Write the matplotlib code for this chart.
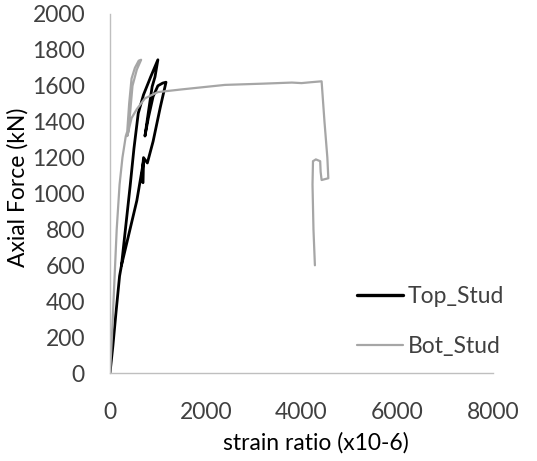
import matplotlib
matplotlib.use("Agg")
import matplotlib.pyplot as plt

# Top_Stud (black) : strain (x10-6), axial force (kN)
top_strain = [0, 60, 130, 200, 240, 330, 420, 500, 590, 700, 850, 1000,
              940, 880, 800, 730, 800, 900, 1000, 1100, 1170,
              1050, 900, 780, 700, 660, 690, 700, 560, 400, 240]
top_force = [0, 150, 350, 540, 600, 820, 1040, 1250, 1447, 1550, 1650, 1745,
             1650, 1595, 1450, 1320, 1420, 1540, 1600, 1615, 1620,
             1480, 1290, 1170, 1200, 1070, 1060, 1180, 960, 780, 600]

# Bot_Stud (gray)
bot_strain = [0, 40, 90, 140, 200, 260, 330, 360, 400, 450, 520, 600, 650,
              560, 470, 420, 380, 360,
              450, 560, 730, 1000, 1500, 2400, 3200, 3800, 4000, 4200, 4420,
              4480, 4540, 4560, 4420, 4400, 4390, 4300, 4240, 4230, 4250, 4280]
bot_force = [0, 200, 500, 800, 1050, 1200, 1320, 1345, 1500, 1640, 1700, 1740, 1745,
             1690, 1600, 1450, 1340, 1320,
             1420, 1470, 1530, 1565, 1580, 1605, 1612, 1618, 1615, 1620, 1625,
             1400, 1200, 1085, 1075, 1120, 1180, 1190, 1180, 1050, 800, 600]

x_ticks = [0, 2000, 4000, 6000, 8000]
y_ticks = [0, 200, 400, 600, 800, 1000, 1200, 1400, 1600, 1800, 2000]

W, H = 537, 461
fig = plt.figure(figsize=(W / 100, H / 100), dpi=100)
ax = fig.add_axes([110 / W, (H - 373) / H, (493 - 110) / W, (373 - 14) / H])

ax.plot(top_strain, top_force, color="#000000", lw=2.0, label="Top_Stud",
        solid_joinstyle="round", solid_capstyle="round")
ax.plot(bot_strain, bot_force, color="#a6a6a6", lw=1.6, label="Bot_Stud",
        solid_joinstyle="round", solid_capstyle="round")

ax.set_xlim(0, 8000)
ax.set_ylim(0, 2000)
ax.set_xticks(x_ticks)
ax.set_yticks(y_ticks)
ax.set_xticklabels([str(v) for v in x_ticks])
ax.set_yticklabels([str(v) for v in y_ticks])

for s in ["top", "right"]:
    ax.spines[s].set_visible(False)
for s in ["left", "bottom"]:
    ax.spines[s].set_color("#bfbfbf")
    ax.spines[s].set_linewidth(1.0)

fs = 16.5
ax.tick_params(axis="both", length=0, labelsize=fs, labelcolor="#404040")
ax.tick_params(axis="y", pad=18)
ax.tick_params(axis="x", pad=21)
for lab in ax.get_xticklabels() + ax.get_yticklabels():
    lab.set_family("Lato")

fig.text(18 / W, 1 - 187 / H, "Axial Force (kN)", rotation=90, ha="center",
         va="center", fontsize=fs, family="Lato", color="#000000")
fig.text(316 / W, 1 - 443 / H, "strain ratio (x10-6)", ha="center",
         va="center", fontsize=fs, family="Lato", color="#000000")

leg = ax.legend(loc="upper left", bbox_to_anchor=(357 / W, 1 - 286 / H),
                bbox_transform=fig.transFigure, frameon=False,
                prop={"family": "Lato", "size": fs}, handlelength=2.0,
                handletextpad=0.22, labelspacing=1.25, borderpad=0, borderaxespad=0)
for t in leg.get_texts():
    t.set_color("#404040")
leg.get_lines()[0].set_linewidth(2.4)

fig.savefig("out.png", dpi=100)
